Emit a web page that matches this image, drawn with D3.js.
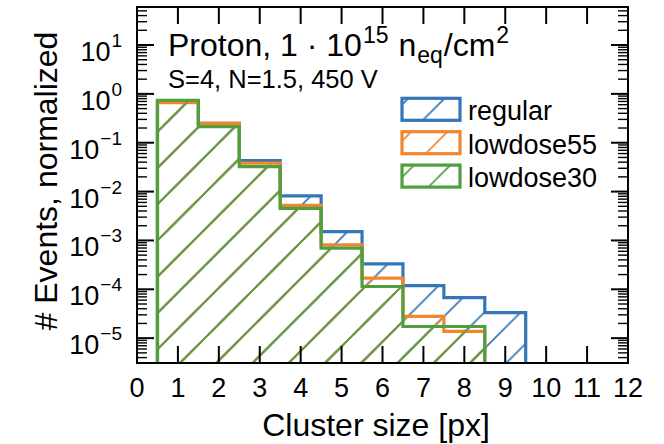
<!DOCTYPE html>
<html>
<head>
<meta charset="utf-8">
<script src="https://cdn.jsdelivr.net/npm/d3@7"></script>
<style>
  body { margin: 0; background: #fff; }
  text { font-family: "Liberation Sans", Arial, sans-serif; fill: #000; }
</style>
</head>
<body>
<svg width="664" height="444"></svg>
<script>
// cluster sizes 1..9, one bin per size
const clusterSizes = [1, 2, 3, 4, 5, 6, 7, 8, 9];
const seriesNames = ['regular', 'lowdose55', 'lowdose30'];
const regular   = [0.68, 0.25, 0.043, 0.0082, 0.00152, 3.32e-4, 1.19e-4, 6.76e-5, 3.33e-5];
const lowdose55 = [0.66, 0.25, 0.0381, 0.00522, 8.13e-4, 1.69e-4, 2.78e-5, 1.37e-5];
const lowdose30 = [0.74, 0.213, 0.0325, 0.00453, 6.96e-4, 1.14e-4, 1.73e-5, 1.73e-5];
const xTicks = [0, 1, 2, 3, 4, 5, 6, 7, 8, 9, 10, 11, 12];
const yExponents = [-5, -4, -3, -2, -1, 0, 1];

const colors = ['#3477b6', '#f2862f', '#4f9f3f'];

const svg = d3.select('svg');
const width = +svg.attr('width');
const height = +svg.attr('height');
const margin = { top: 7, right: 36, bottom: 81, left: 137 };

// scales work in absolute svg coordinates
const xScale = d3.scaleLinear().domain([0, 12]).range([margin.left, width - margin.right]);
const yScale = d3.scaleLog().domain([3.1e-6, 60]).range([height - margin.bottom, margin.top]);
const [x0, x1] = xScale.range();
const [y0, y1] = yScale.range();

const defs = svg.append('defs');
defs.append('clipPath').attr('id', 'plot-clip')
  .append('rect').attr('x', x0).attr('y', y1).attr('width', x1 - x0).attr('height', y0 - y1);

// "/" hatch, same phase for every series so the lines overlap
const hatch = 36.25;
colors.forEach((c, i) => {
  const p = defs.append('pattern')
    .attr('id', 'hatch' + i)
    .attr('patternUnits', 'userSpaceOnUse')
    .attr('x', 35.5).attr('y', 0)
    .attr('width', hatch).attr('height', hatch);
  p.append('path')
    .attr('d', `M0,${hatch} L${hatch},0 M-2,2 L2,-2 M${hatch - 2},${hatch + 2} L${hatch + 2},${hatch - 2}`)
    .attr('stroke', c)
    .attr('stroke-width', 1.7)
    .attr('fill', 'none');
});

const plot = svg.append('g').attr('clip-path', 'url(#plot-clip)');

const stepLine = d3.line()
  .x(d => xScale(d[0]))
  .y(d => yScale(d[1]))
  .curve(d3.curveStepAfter);

[regular, lowdose55, lowdose30].forEach((values, i) => {
  const pts = [[clusterSizes[0] - 0.5, 1e-9]];
  values.forEach((v, j) => pts.push([clusterSizes[j] - 0.5, v]));
  pts.push([clusterSizes[values.length - 1] + 0.5, 1e-9]);
  plot.append('path')
    .attr('d', stepLine(pts))
    .attr('fill', `url(#hatch${i})`)
    .attr('stroke', colors[i])
    .attr('stroke-width', 3.2)
    .attr('stroke-linejoin', 'miter');
});

// frame
svg.append('rect')
  .attr('x', x0).attr('y', y1)
  .attr('width', x1 - x0).attr('height', y0 - y1)
  .attr('fill', 'none').attr('stroke', '#000').attr('stroke-width', 2);

// inward ticks on all four sides
const majorLen = 17, minorLen = 10;
const ticks = svg.append('g').attr('stroke', '#000');
xTicks.forEach(t => {
  const x = xScale(t);
  ticks.append('line').attr('x1', x).attr('x2', x).attr('y1', y0).attr('y2', y0 - majorLen).attr('stroke-width', 2);
  ticks.append('line').attr('x1', x).attr('x2', x).attr('y1', y1).attr('y2', y1 + majorLen).attr('stroke-width', 2);
});
const minorY = [];
d3.range(-6, 2).forEach(e => d3.range(2, 10).forEach(m => minorY.push(m * Math.pow(10, e))));
minorY.filter(v => v > 3.1e-6 && v < 60).forEach(v => {
  const y = yScale(v);
  ticks.append('line').attr('x1', x0).attr('x2', x0 + minorLen).attr('y1', y).attr('y2', y).attr('stroke-width', 1.4);
  ticks.append('line').attr('x1', x1).attr('x2', x1 - minorLen).attr('y1', y).attr('y2', y).attr('stroke-width', 1.4);
});
yExponents.forEach(e => {
  const y = yScale(Math.pow(10, e));
  ticks.append('line').attr('x1', x0).attr('x2', x0 + majorLen).attr('y1', y).attr('y2', y).attr('stroke-width', 2);
  ticks.append('line').attr('x1', x1).attr('x2', x1 - majorLen).attr('y1', y).attr('y2', y).attr('stroke-width', 2);
});

// tick labels
svg.append('g').selectAll('text')
  .data(xTicks)
  .join('text')
  .attr('x', d => xScale(d))
  .attr('y', y0 + 34)
  .attr('text-anchor', 'middle')
  .attr('font-size', 27)
  .text(d => d);

// y labels: exponent right-aligned, then "10" placed to its left
const yLab = svg.append('g');
yExponents.forEach(e => {
  const y = yScale(Math.pow(10, e));
  const sup = yLab.append('text')
    .attr('x', x0 - 15).attr('y', y + 2)
    .attr('text-anchor', 'end')
    .attr('font-size', 19)
    .text(e < 0 ? '\u2212' + (-e) : e);
  const w = sup.node().getComputedTextLength();
  yLab.append('text')
    .attr('x', x0 - 15 - w - 1).attr('y', y + 16)
    .attr('text-anchor', 'end')
    .attr('font-size', 27)
    .text('10');
});

// axis labels
svg.append('text')
  .attr('x', 376)
  .attr('y', y0 + 73)
  .attr('text-anchor', 'middle')
  .attr('font-size', 32)
  .text('Cluster size [px]');

svg.append('text')
  .attr('transform', 'translate(57, 181) rotate(-90)')
  .attr('text-anchor', 'middle')
  .attr('font-size', 32)
  .text('# Events, normalized');

// annotation, pieces laid out one after another
const pieces = [
  { t: 'Proton, 1 \u00b7 10', size: 32, dy: 0 },
  { t: '15', size: 23, dy: -13 },
  { t: '\u00a0n', size: 32, dy: 0 },
  { t: 'eq', size: 23, dy: 7 },
  { t: '/cm', size: 32, dy: 0 },
  { t: '2', size: 23, dy: -13 }
];
let cx = 168;
pieces.forEach(p => {
  const t = svg.append('text')
    .attr('x', cx).attr('y', 56 + p.dy)
    .attr('font-size', p.size)
    .text(p.t);
  cx += t.node().getComputedTextLength() + 1;
});

svg.append('text')
  .attr('x', 168)
  .attr('y', 88)
  .attr('font-size', 25.5)
  .text('S=4, N=1.5, 450 V');

// legend
const legend = svg.append('g');
seriesNames.forEach((name, i) => {
  const top = 98.3 + i * 33.4;
  legend.append('rect')
    .attr('x', 402).attr('y', top)
    .attr('width', 58).attr('height', 22)
    .attr('fill', `url(#hatch${i})`)
    .attr('stroke', colors[i])
    .attr('stroke-width', 3.2);
  legend.append('text')
    .attr('x', 468)
    .attr('y', top + 22)
    .attr('font-size', 27)
    .text(name);
});
</script>
</body>
</html>
